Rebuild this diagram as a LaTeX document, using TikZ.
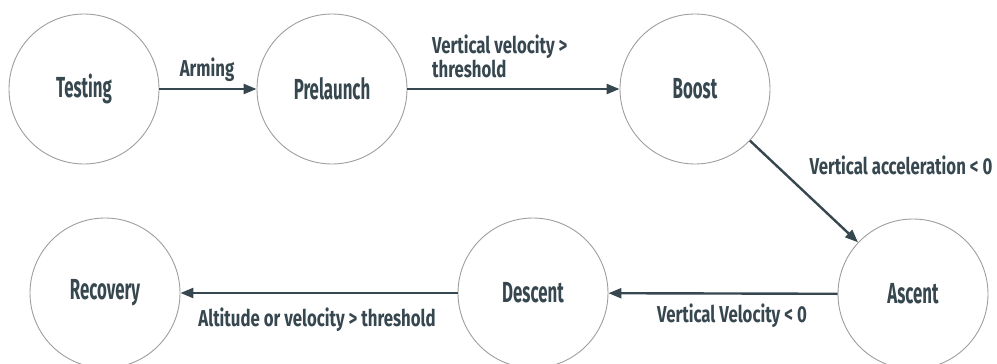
\documentclass[tikz,border=0pt]{standalone}
\usepackage{fontspec}
\setmainfont{Fira Sans}
\newfontfamily\statefont{Fira Sans}[FakeStretch=0.58]
\newfontfamily\labfont{Fira Sans}[FakeStretch=0.73]
\usetikzlibrary{arrows.meta}
\definecolor{ink}{HTML}{37474F}
\definecolor{ring}{HTML}{9E9E9E}
\tikzset{
  state/.style={circle, draw=ring, line width=0.9pt, minimum size=150pt, inner sep=0pt,
    text=ink, font=\statefont\bfseries\fontsize{29}{30}\selectfont},
  trans/.style={draw=ink, line width=2.4pt, -{Triangle[length=13pt,width=10pt]}},
  lab/.style={text=ink, inner sep=0pt, font=\labfont\bfseries\fontsize{23}{23}\selectfont}
}
\begin{document}
\begin{tikzpicture}[x=1pt,y=-1pt]
\useasboundingbox (0,0) rectangle (997,364);
\clip (0,0) rectangle (997,364);
\node[state] (testing) at (84,89) {Testing};
\node[state] (prelaunch) at (332,89) {Prelaunch};
\node[state] (boost) at (695,89) {Boost};
\node[state] (ascent) at (913,294) {Ascent};
\node[state] (descent) at (533,293) {Descent};
\node[state] (recovery) at (105,293) {Recovery};
\draw[trans] (testing) -- (prelaunch);
\draw[trans] (prelaunch) -- (boost);
\draw[trans] (boost) -- (ascent);
\draw[trans] (ascent) -- (descent);
\draw[trans] (descent) -- (recovery);
\node[lab] (l1) at (207,70) {Arming};
\node[lab, align=left, anchor=north west] (l2) at (432,35) {Vertical velocity >\\[1pt]threshold};
\node[lab] (l3) at (901,165) {Vertical acceleration < 0};
\node[lab] (l4) at (732,316) {Vertical Velocity < 0};
\node[lab] (l5) at (317,320) {Altitude or velocity > threshold};
\end{tikzpicture}
\end{document}
